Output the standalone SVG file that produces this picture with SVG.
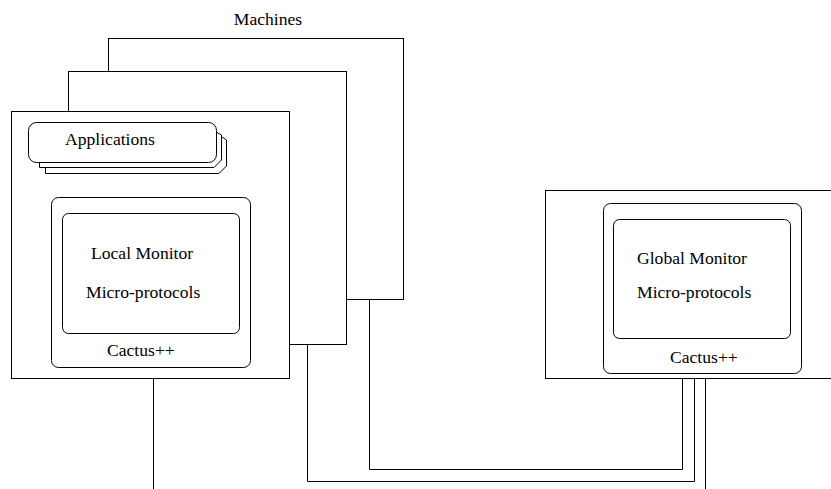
<svg xmlns="http://www.w3.org/2000/svg" width="831" height="489" viewBox="0 0 831 489">
<style>
.s{fill:#fff;stroke:#000;stroke-width:1}
.w{fill:none;stroke:#000;stroke-width:1}
text{font-family:"Liberation Serif","Times New Roman",serif;font-size:17.6px;fill:#000}
</style>
<rect width="831" height="489" fill="#fff"/>
<g id="connectors">
<path class="w" d="M153.5,367 V489"/>
<path class="w" d="M369.5,299 V469.5 H682.5 V373"/>
<path class="w" d="M307.5,344 V481.5 H694.5 V373"/>
<path class="w" d="M705.5,373 V489"/>
</g>
<g id="machines">
<rect class="s" x="108.5" y="38.5" width="295" height="261"/>
<rect class="s" x="68.5" y="71.5" width="278" height="273"/>
<text x="268" y="25" text-anchor="middle">Machines</text>
</g>
<g id="machine1">
<rect class="s" x="11.5" y="111.5" width="278" height="267"/>
</g>
<g id="applications">
<path class="s" d="M45.5,167 V173.5 H219 L226.5,166 V140 L222,137"/>
<path class="s" d="M39.5,161 V167.5 H214 L221.5,160 V135 L216,132"/>
<rect class="s" x="28.5" y="122.5" width="188" height="40" rx="8"/>
<text x="65" y="145">Applications</text>
</g>
<g id="local-cactus">
<rect class="s" x="51.5" y="197.5" width="199" height="170" rx="7"/>
<text x="107" y="356">Cactus++</text>
</g>
<g id="local-monitor">
<rect class="s" x="62.5" y="213.5" width="177" height="120" rx="6"/>
<text x="91" y="259">Local Monitor</text>
<text x="86" y="298">Micro-protocols</text>
</g>
<g id="global-machine">
<rect class="s" x="545.5" y="190.5" width="300" height="188"/>
</g>
<g id="global-cactus">
<rect class="s" x="603.5" y="203.5" width="198" height="170" rx="7"/>
<text x="670" y="363">Cactus++</text>
</g>
<g id="global-monitor">
<rect class="s" x="613.5" y="219.5" width="177" height="119" rx="6"/>
<text x="637" y="264">Global Monitor</text>
<text x="637" y="298">Micro-protocols</text>
</g>
</svg>
